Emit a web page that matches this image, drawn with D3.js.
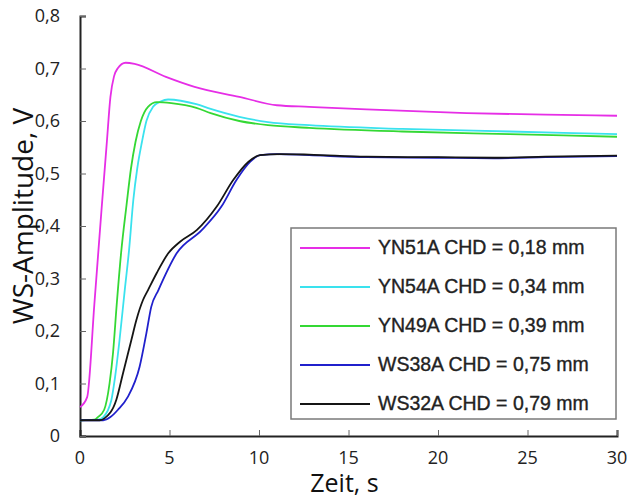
<!DOCTYPE html>
<html lang="de">
<head>
<meta charset="UTF-8">
<title>WS-Amplitude</title>
<script src="https://d3js.org/d3.v7.min.js"></script>
<style>
  body { margin: 0; background: #fff; }
</style>
</head>
<body>
<div id="chart"></div>
<script>
// values (time in s, amplitude in V)
const seriesNames = ["YN51A CHD = 0,18 mm", "YN54A CHD = 0,34 mm", "YN49A CHD = 0,39 mm",
                     "WS38A CHD = 0,75 mm", "WS32A CHD = 0,79 mm"];
const seriesColors = ["#e62ee6", "#3ae2ee", "#34d834", "#2020cc", "#151515"];

const tYN51A = [0, 0.4, 0.8, 1.2, 1.5, 1.7, 1.9, 2.1, 2.55, 3.05, 4.8, 6.4, 8.9, 11, 12.8, 16, 21.6, 26, 30];
const vYN51A = [0.055, 0.074, 0.25, 0.43, 0.56, 0.646, 0.685, 0.70, 0.711, 0.709, 0.684, 0.665, 0.646, 0.630, 0.627, 0.622, 0.615, 0.612, 0.61];

const tYN54A = [0, 1.0, 1.3, 1.75, 1.95, 2.2, 2.5, 2.74, 2.98, 3.2, 3.46, 3.71, 4.08, 4.5, 4.92, 6.5, 7.3, 8.9, 10.5, 12.8, 18, 24, 30];
const vYN54A = [0.03, 0.031, 0.036, 0.068, 0.11, 0.18, 0.278, 0.354, 0.45, 0.51, 0.56, 0.60, 0.627, 0.637, 0.641, 0.632, 0.623, 0.608, 0.598, 0.592, 0.585, 0.58, 0.575];

const tYN49A = [0, 0.8, 1.0, 1.35, 1.65, 1.85, 2.05, 2.3, 2.6, 2.85, 3.1, 3.4, 3.8, 4.3, 5.1, 6.5, 7.3, 8.9, 10.5, 12.8, 18, 24, 30];
const vYN49A = [0.03, 0.031, 0.036, 0.05, 0.1, 0.16, 0.25, 0.35, 0.44, 0.51, 0.56, 0.60, 0.627, 0.636, 0.634, 0.625, 0.615, 0.60, 0.592, 0.587, 0.58, 0.575, 0.57];

const tWS38A = [0, 1.3, 1.7, 2.12, 2.68, 3.33, 3.71, 3.98, 4.38, 5.4, 6.8, 7.9, 8.75, 9.5, 10.06, 11, 12.8, 16, 20, 23.4, 26, 30];
const vWS38A = [0.03, 0.03, 0.036, 0.05, 0.075, 0.132, 0.196, 0.246, 0.278, 0.348, 0.392, 0.437, 0.488, 0.522, 0.535, 0.537, 0.535, 0.531, 0.53, 0.529, 0.531, 0.533];

const tWS32A = [0, 1.1, 1.38, 2.03, 2.4, 2.87, 3.15, 3.52, 3.8, 4.28, 4.93, 5.59, 6.52, 7.64, 8.57, 9.4, 10.06, 11.2, 12.8, 16, 20, 23.4, 26, 30];
const vWS32A = [0.03, 0.03, 0.034, 0.069, 0.119, 0.183, 0.221, 0.259, 0.278, 0.31, 0.348, 0.37, 0.392, 0.437, 0.488, 0.522, 0.535, 0.537, 0.536, 0.532, 0.531, 0.53, 0.532, 0.534];

const xTicks = [0, 5, 10, 15, 20, 25, 30];
const yTicks = [0, 0.1, 0.2, 0.3, 0.4, 0.5, 0.6, 0.7, 0.8];

const times = [tYN51A, tYN54A, tYN49A, tWS38A, tWS32A];
const values = [vYN51A, vYN54A, vYN49A, vWS38A, vWS32A];
const series = seriesNames.map((name, i) => ({
  name: name,
  color: seriesColors[i],
  points: times[i].map((t, j) => ({t: t, v: values[i][j]}))
}));

const W = 631, H = 499;
const margin = {top: 16, right: 14, bottom: 63, left: 80};
const width = W - margin.left - margin.right,
      height = H - margin.top - margin.bottom;

const svg = d3.select("#chart").append("svg")
  .attr("width", W).attr("height", H);
const g = svg.append("g")
  .attr("transform", `translate(${margin.left},${margin.top})`);

const x = d3.scaleLinear().domain([0, 30]).range([0, width]);
const y = d3.scaleLinear().domain([0, 0.8]).range([height, 0]);
const fmt = d => String(+d.toFixed(1)).replace(".", ",");

// axes, ticks pointing inward
const xAxis = g.append("g")
  .attr("transform", `translate(0,${height})`)
  .call(d3.axisTop(x).tickValues(xTicks).tickSize(6).tickFormat(""));
const yAxis = g.append("g")
  .call(d3.axisRight(y).tickValues(yTicks).tickSize(6).tickFormat(""));
[xAxis, yAxis].forEach(a => {
  a.select(".domain").attr("stroke", "#222").attr("stroke-width", 2);
  a.selectAll(".tick line").attr("stroke", "#666").attr("stroke-width", 1);
});

g.selectAll(".xlab").data(xTicks).join("text")
  .attr("class", "xlab")
  .attr("x", d => x(d)).attr("y", height + 28)
  .attr("text-anchor", "middle")
  .style("font-family", "'Open Sans', sans-serif").style("font-size", "18px")
  .attr("fill", "#222")
  .text(d => d);

g.selectAll(".ylab").data(yTicks).join("text")
  .attr("class", "ylab")
  .attr("x", -20).attr("y", d => y(d)).attr("dy", "0.35em")
  .attr("text-anchor", "end")
  .style("font-family", "'Open Sans', sans-serif").style("font-size", "18px")
  .attr("fill", "#222")
  .text(d => fmt(d));

// axis titles
svg.append("text")
  .attr("x", margin.left + x(15) - 4).attr("y", 492)
  .attr("text-anchor", "middle")
  .style("font-family", "'Open Sans', sans-serif").style("font-size", "25px")
  .attr("fill", "#111")
  .text("Zeit, s");
svg.append("text")
  .attr("transform", "translate(33,216) rotate(-90)")
  .attr("text-anchor", "middle")
  .style("font-family", "'Open Sans', sans-serif").style("font-size", "28px")
  .attr("fill", "#111")
  .text("WS-Amplitude, V");

// curves
const line = d3.line()
  .x(d => x(d.t)).y(d => y(d.v))
  .curve(d3.curveMonotoneX);
g.selectAll(".curve").data(series).join("path")
  .attr("class", "curve")
  .attr("fill", "none")
  .attr("stroke", d => d.color)
  .attr("stroke-width", 1.8)
  .attr("d", d => line(d.points));

// legend
const legend = svg.append("g").attr("transform", "translate(291,228)");
legend.append("rect")
  .attr("width", 325).attr("height", 191)
  .attr("fill", "#fff").attr("stroke", "#7a7a7a").attr("stroke-width", 1.5);
const rows = legend.selectAll(".row").data(series).join("g")
  .attr("class", "row")
  .attr("transform", (d, i) => `translate(0,${20 + i * 39})`);
rows.append("line")
  .attr("x1", 9).attr("x2", 79)
  .attr("stroke", d => d.color).attr("stroke-width", 2);
rows.append("text")
  .attr("x", 87).attr("y", 6)
  .style("font-family", "'Liberation Sans', Arial, sans-serif").style("font-size", "19.5px")
  .attr("fill", "#222").attr("stroke", "#222").attr("stroke-width", 0.35)
  .text(d => d.name);
</script>
</body>
</html>
